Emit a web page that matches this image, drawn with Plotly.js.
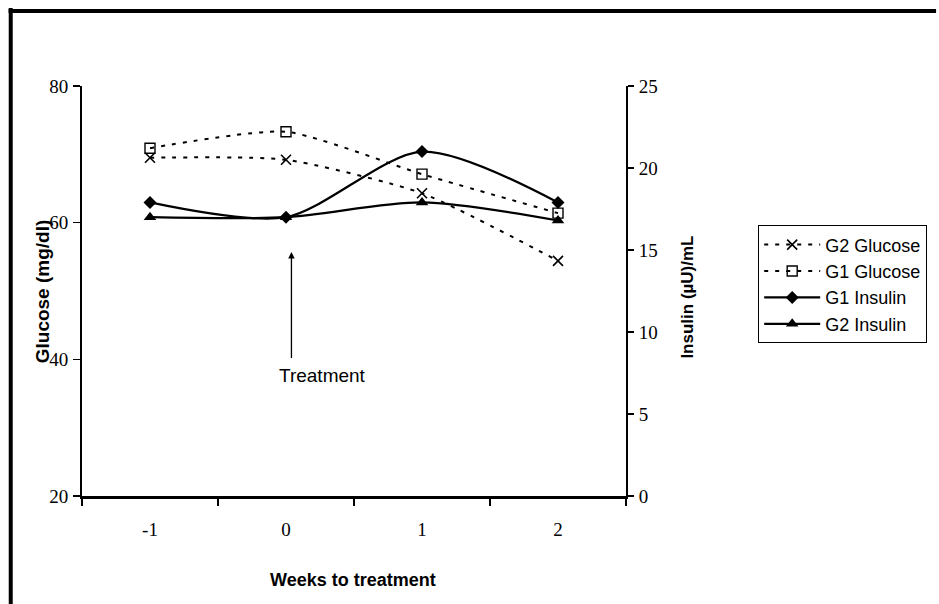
<!DOCTYPE html>
<html>
<head>
<meta charset="utf-8">
<script src="https://cdn.plot.ly/plotly-3.0.1.min.js"></script>
<style>html,body{margin:0;padding:0;background:#fff;}#chart{width:939px;height:604px;}</style>
</head>
<body>
<div id="chart"></div>
<script>
const weeks = ['-1', '0', '1', '2'];
const g2Glucose = [69.5, 69.2, 64.3, 54.4];
const g1Glucose = [70.9, 73.3, 67.1, 61.4];
const g1Insulin = [17.9, 17.0, 21.0, 17.9];
const g2Insulin = [17.0, 17.0, 17.9, 16.8];
const glucoseTicks = [20, 40, 60, 80];
const insulinTicks = [0, 5, 10, 15, 20, 25];

const traces = [
  {x: weeks, y: g2Glucose, name: 'G2 Glucose', type: 'scatter', mode: 'lines+markers',
   line: {color: '#000', width: 2, dash: '4px,7px', shape: 'spline', smoothing: 0.6},
   marker: {symbol: 'x-thin-open', size: 10, color: '#000', line: {color: '#000', width: 1.6}}},
  {x: weeks, y: g1Glucose, name: 'G1 Glucose', type: 'scatter', mode: 'lines+markers',
   line: {color: '#000', width: 2, dash: '4px,7px', shape: 'spline', smoothing: 0.6},
   marker: {symbol: 'square-open', size: 10, color: '#000', line: {color: '#000', width: 1.4}}},
  {x: weeks, y: g1Insulin, name: 'G1 Insulin', type: 'scatter', mode: 'lines+markers', yaxis: 'y2',
   line: {color: '#000', width: 2.2, shape: 'spline', smoothing: 0.8},
   marker: {symbol: 'diamond', size: 10, color: '#000'}},
  {x: weeks, y: g2Insulin, name: 'G2 Insulin', type: 'scatter', mode: 'lines+markers', yaxis: 'y2',
   line: {color: '#000', width: 2.2, shape: 'spline', smoothing: 0.8},
   marker: {symbol: 'triangle-up', size: 11, color: '#000'}}
];

const tickFont = {family: 'Liberation Serif, Times New Roman, serif', size: 19, color: '#000'};
const sans = 'Liberation Sans, Arial, sans-serif';

const layout = {
  width: 939, height: 604,
  margin: {l: 82, r: 309, t: 86, b: 108},
  paper_bgcolor: '#fff', plot_bgcolor: '#fff',
  showlegend: true,
  xaxis: {
    type: 'category', categoryorder: 'array', categoryarray: weeks,
    range: [-0.5, 3.5], tickson: 'boundaries', ticks: 'outside', ticklen: 7, tickwidth: 1.5, tickcolor: '#000',
    showline: true, linecolor: '#000', linewidth: 3, showgrid: false, zeroline: false,
    tickfont: tickFont, ticklabelstandoff: 14
  },
  yaxis: {
    range: [20, 80], tickvals: glucoseTicks, ticks: 'outside', ticklen: 7, tickwidth: 1.5, tickcolor: '#000',
    showline: true, linecolor: '#000', linewidth: 2, showgrid: false, zeroline: false,
    tickfont: tickFont, ticklabelstandoff: 1
  },
  yaxis2: {
    overlaying: 'y', side: 'right', range: [0, 25], tickvals: insulinTicks,
    ticks: 'outside', ticklen: 6, tickwidth: 2, tickcolor: '#000',
    showline: true, linecolor: '#000', linewidth: 2, showgrid: false, zeroline: false,
    tickfont: tickFont, ticklabelstandoff: 1
  },
  legend: {
    x: 1.243, y: 0.66, xanchor: 'left', yanchor: 'top',
    bordercolor: '#000', borderwidth: 1, bgcolor: '#fff',
    font: {family: sans, size: 18, color: '#000'},
    tracegroupgap: 0, itemwidth: 56
  },
  annotations: [
    {x: 1.04, y: 55.7, xref: 'x', yref: 'y', text: ' ', showarrow: true, arrowhead: 2, arrowsize: 1, arrowwidth: 1.3,
     arrowcolor: '#000', ax: 0, ay: 116, standoff: 0},
    {x: 1.27, y: 37.7, xref: 'x', yref: 'y', text: 'Treatment', showarrow: false,
     font: {family: sans, size: 19, color: '#000'}},
    {x: -0.073, y: 0.5, xref: 'paper', yref: 'paper', text: 'Glucose (mg/dl)', textangle: -90, showarrow: false,
     xanchor: 'center', yanchor: 'middle', font: {family: sans, size: 19, color: '#000', weight: 'bold'}},
    {x: 1.113, y: 0.485, xref: 'paper', yref: 'paper', text: 'Insulin (µU)/mL', textangle: -90, showarrow: false,
     xanchor: 'center', yanchor: 'middle', font: {family: sans, size: 17, color: '#000', weight: 'bold'}},
    {x: 0.498, y: -0.205, xref: 'paper', yref: 'paper', text: 'Weeks to treatment', showarrow: false,
     xanchor: 'center', yanchor: 'middle', font: {family: sans, size: 18, color: '#000', weight: 'bold'}}
  ],
  shapes: [
    {type: 'line', xref: 'paper', yref: 'paper', x0: -0.135, x1: 1.57, y0: 1.183, y1: 1.183, line: {color: '#000', width: 4}},
    {type: 'line', xref: 'paper', yref: 'paper', x0: -0.131, x1: -0.131, y0: 1.19, y1: -0.27, line: {color: '#000', width: 4}}
  ]
};

Plotly.newPlot('chart', traces, layout, {displayModeBar: false, staticPlot: true});
</script>
</body>
</html>
